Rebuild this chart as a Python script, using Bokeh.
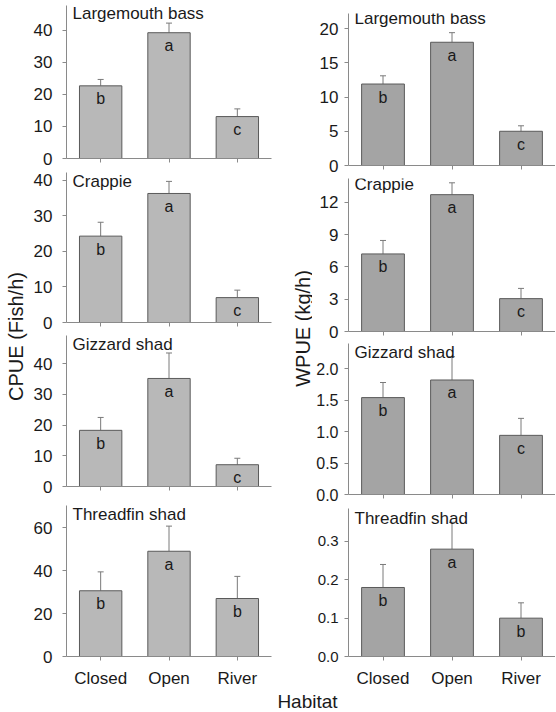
import math
from bokeh.plotting import figure
from bokeh.models import (ColumnDataSource, Range1d, FactorRange, FixedTicker,
                          Whisker, TeeHead, PrintfTickFormatter,
                          CustomLabelingPolicy)
from bokeh.layouts import row, column
from bokeh.core.properties import value
from bokeh.embed import file_html
from bokeh.resources import INLINE

FONT = "Liberation Sans"

# ---------------- data ----------------
habitats = ["Closed", "Open", "River"]
species = ["Largemouth bass", "Crappie", "Gizzard shad", "Threadfin shad"]

cpue_lmb = [22.7, 39.3, 13.1]
cpue_lmb_se = [2.0, 3.0, 2.4]
cpue_crappie = [24.3, 36.3, 7.0]
cpue_crappie_se = [3.9, 3.4, 2.1]
cpue_gizzard = [18.3, 35.2, 7.1]
cpue_gizzard_se = [4.2, 8.3, 2.1]
cpue_threadfin = [30.6, 49.0, 27.0]
cpue_threadfin_se = [8.8, 11.7, 10.3]

wpue_lmb = [11.9, 18.0, 5.0]
wpue_lmb_se = [1.2, 1.4, 0.8]
wpue_crappie = [7.2, 12.7, 3.05]
wpue_crappie_se = [1.25, 1.1, 0.95]
wpue_gizzard = [1.54, 1.82, 0.94]
wpue_gizzard_se = [0.24, 0.37, 0.27]
wpue_threadfin = [0.18, 0.28, 0.10]
wpue_threadfin_se = [0.06, 0.07, 0.04]

letters_lmb = ["b", "a", "c"]
letters_crappie = ["b", "a", "c"]
letters_gizzard = ["b", "a", "c"]
letters_threadfin = ["b", "a", "b"]

cpue_ticks_lmb = [0, 10, 20, 30, 40]
cpue_ticks_crappie = [0, 10, 20, 30, 40]
cpue_ticks_gizzard = [0, 10, 20, 30, 40]
cpue_ticks_threadfin = [0, 20, 40, 60]
wpue_ticks_lmb = [0, 5, 10, 15, 20]
wpue_ticks_crappie = [0, 3, 6, 9, 12]
wpue_ticks_gizzard = [0.0, 0.5, 1.0, 1.5, 2.0]
wpue_ticks_threadfin = [0.0, 0.1, 0.2, 0.3]

cpue_ymax = [47.8, 42.2, 49.2, 70.3]
wpue_ymax = [22.2, 14.2, 2.40, 0.386]

y_label_left = "CPUE (Fish/h)"
y_label_right = "WPUE (kg/h)"
x_label = "Habitat"

# ---------------- style / layout ----------------
LEFT_FILL = "#b8b8b8"
RIGHT_FILL = "#a4a4a4"
OUTLINE = "#5a5a5a"
AXIS = "#8a8a8a"
TEXT = "#1a1a1a"

# (border_top, frame_height, border_bottom)
left_geom = [(5, 153, 10), (4, 150, 10), (3, 151, 10), (9, 152, 33)]
right_geom = [(13, 152, 10), (3, 153, 10), (2, 151, 10), (4, 150, 32)]
left_title_off = [8, 9, 9, 9]
right_title_off = [5, 6, 9, 10]
left_tick_fs = [17, 17, 17, 17]
right_tick_fs = [17, 17, 16, 15]
left_fmt = ["%d", "%d", "%d", "%d"]
right_fmt = ["%d", "%d", "%.1f", "%.1f"]

HIDE_ALL = "for (const i of indices) { if (false) { yield i } }"


def panel(vals, se, letters, ticks, ymax, title, fill, width, bl, br, geom,
          tick_fs, fmt, standoff, show_x, title_off):
    bt, fh, bb = geom
    p = figure(width=width, height=bt + fh + bb,
               x_range=FactorRange(*habitats), y_range=Range1d(0, ymax),
               output_backend="svg", toolbar_location=None, title=None,
               min_border_left=bl, min_border_right=br,
               min_border_top=bt, min_border_bottom=bb)
    src = ColumnDataSource(dict(
        x=habitats, top=vals,
        upper=[v + s for v, s in zip(vals, se)],
        letter=letters))
    p.vbar(x="x", top="top", width=0.62, source=src, fill_color=fill,
           line_color=OUTLINE, line_width=1)
    w = Whisker(source=src, base="x", lower="top", upper="upper",
                dimension="height", line_color="#7a7a7a", line_width=1,
                lower_head=None,
                upper_head=TeeHead(size=6, line_color="#7a7a7a", line_width=1))
    p.add_layout(w)
    p.text(x="x", y="top", text="letter", source=src, text_align="center",
           text_baseline="alphabetic", y_offset=13, text_font=value(FONT),
           text_font_size="16px", text_color=TEXT)
    tsrc = ColumnDataSource(dict(x=[0], y=[ymax], t=[title]))
    p.text(x="x", y="y", text="t", source=tsrc, x_offset=6, y_offset=title_off,
           text_align="left", text_baseline="alphabetic",
           text_font=value(FONT), text_font_size="17px", text_color=TEXT)

    p.xgrid.grid_line_color = None
    p.ygrid.grid_line_color = None
    p.outline_line_color = None

    p.yaxis.ticker = FixedTicker(ticks=ticks)
    p.yaxis.formatter = PrintfTickFormatter(format=fmt)
    p.yaxis.minor_tick_line_color = None
    p.yaxis.major_tick_in = 0
    p.yaxis.major_tick_out = 4
    p.yaxis.major_label_standoff = standoff
    p.yaxis.major_label_text_font = FONT
    p.yaxis.major_label_text_font_size = f"{tick_fs}px"
    p.yaxis.major_label_text_color = TEXT
    p.yaxis.axis_line_color = AXIS
    p.yaxis.major_tick_line_color = AXIS

    p.xaxis.major_tick_in = 0
    p.xaxis.major_tick_out = 4
    p.xaxis.axis_line_color = AXIS
    p.xaxis.major_tick_line_color = AXIS
    p.xaxis.major_label_text_font = FONT
    p.xaxis.major_label_text_color = TEXT
    if show_x:
        p.xaxis.major_label_text_font_size = "17px"
        p.xaxis.major_label_standoff = 8
    else:
        p.xaxis.major_label_text_font_size = "0px"
        p.xaxis.major_label_standoff = 0
        p.xaxis.major_label_policy = CustomLabelingPolicy(code=HIDE_ALL)
    return p


def blank(w, h):
    p = figure(width=w, height=h, x_range=Range1d(0, w), y_range=Range1d(0, h),
               output_backend="svg", toolbar_location=None, title=None,
               min_border=0)
    p.axis.visible = False
    p.grid.visible = False
    p.outline_line_color = None
    return p


cpue_vals = [cpue_lmb, cpue_crappie, cpue_gizzard, cpue_threadfin]
cpue_se = [cpue_lmb_se, cpue_crappie_se, cpue_gizzard_se, cpue_threadfin_se]
wpue_vals = [wpue_lmb, wpue_crappie, wpue_gizzard, wpue_threadfin]
wpue_se = [wpue_lmb_se, wpue_crappie_se, wpue_gizzard_se, wpue_threadfin_se]
letters_all = [letters_lmb, letters_crappie, letters_gizzard, letters_threadfin]
cpue_ticks = [cpue_ticks_lmb, cpue_ticks_crappie, cpue_ticks_gizzard, cpue_ticks_threadfin]
wpue_ticks = [wpue_ticks_lmb, wpue_ticks_crappie, wpue_ticks_gizzard, wpue_ticks_threadfin]

left_figs = []
right_figs = []
for i in range(4):
    left_figs.append(panel(cpue_vals[i], cpue_se[i], letters_all[i], cpue_ticks[i],
                           cpue_ymax[i], species[i], LEFT_FILL, 248, 36, 7,
                           left_geom[i], left_tick_fs[i], left_fmt[i], 10, i == 3,
                           left_title_off[i]))
    right_figs.append(panel(wpue_vals[i], wpue_se[i], letters_all[i], wpue_ticks[i],
                            wpue_ymax[i], species[i], RIGHT_FILL, 243, 36, 0,
                            right_geom[i], right_tick_fs[i], right_fmt[i], 6, i == 3,
                            right_title_off[i]))

COL_H = 690
fa = blank(30, COL_H)
fa.text(x=[15], y=[COL_H - 336], text=[y_label_left], angle=math.pi / 2,
        text_align="center", text_baseline="middle", text_font=value(FONT),
        text_font_size="20px", text_color=TEXT)
fc = blank(34, COL_H)
fc.text(x=[24], y=[COL_H - 328], text=[y_label_right], angle=math.pi / 2,
        text_align="center", text_baseline="middle", text_font=value(FONT),
        text_font_size="20px", text_color=TEXT)
fh = blank(555, 21)
fh.text(x=[307], y=[10], text=[x_label], text_align="center",
        text_baseline="middle", text_font=value(FONT),
        text_font_size="19px", text_color=TEXT)

layout = column(row(fa, column(*left_figs), fc, column(*right_figs)), fh)

open("out.html", "w").write(file_html(layout, INLINE))
